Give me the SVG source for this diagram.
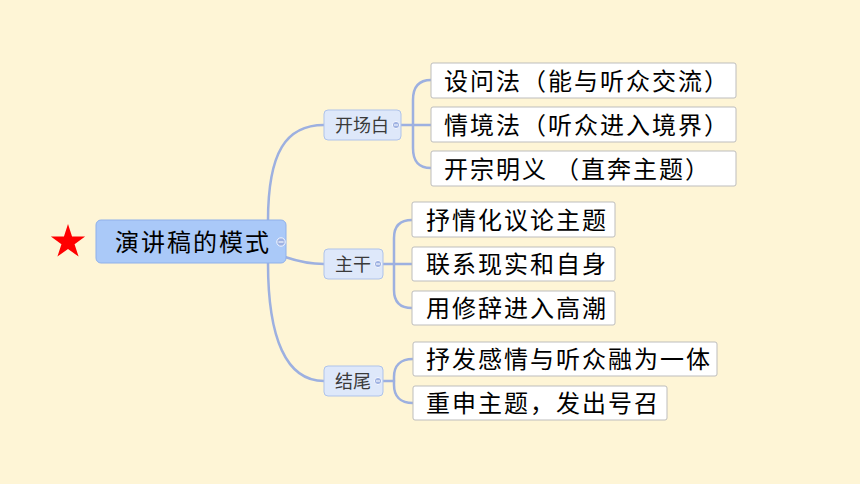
<svg xmlns="http://www.w3.org/2000/svg" width="860" height="484" viewBox="0 0 860 484">
<style>
.bg{fill:#FEF5D6}
.conn{fill:none;stroke:#9DB0E0;stroke-width:2.5;stroke-linecap:round}
.root{fill:#AAC9F8;stroke:#8FB0EA;stroke-width:1}
.sub{fill:#DEE8FA;stroke:#AFC3EA;stroke-width:1}
.leaf{fill:#FFFFFF;stroke:#BDBDBD;stroke-width:1}
.tl{font-family:"Noto Sans CJK SC","Noto Sans CJK JP",sans-serif;font-size:24px;letter-spacing:2px;fill:#000}
.ts{font-family:"Noto Sans CJK SC","Noto Sans CJK JP",sans-serif;font-size:18px;fill:#3A3A3A}
.knob{fill:#9FB2E2;stroke:#F4F7FF;stroke-width:1}
.knobline{stroke:#F4F7FF;stroke-width:1.2}
</style>
<rect class="bg" x="0" y="0" width="860" height="484"/>
<g id="connectors">
<path class="conn" d="M268,221 C268,152 286,125 324,125"/>
<path class="conn" d="M268,263 C268,338 286,381 324,381"/>
<path class="conn" d="M285,257 C300,262 310,264 324,264"/>
<path class="conn" d="M401,125 H431"/>
<path class="conn" d="M431,80 C418,80 413,88 413,100 V148 C413,161 418,168 431,168"/>
<path class="conn" d="M383,264 H412"/>
<path class="conn" d="M412,220 C400,220 394,226 394,238 V290 C394,302 400,308 412,308"/>
<path class="conn" d="M383,381 H394"/>
<path class="conn" d="M413,359 C400,359 394,366 394,377 V385 C394,396 400,403 413,403"/>
</g>
<g id="star">
<polygon fill="#FF0000" points="68,224 72.06,236.42 85.12,236.44 74.56,244.13 78.58,256.56 68,248.9 57.42,256.56 61.44,244.13 50.88,236.44 63.94,236.42"/>
</g>
<g id="root">
<rect class="root" x="96" y="220" width="190" height="43" rx="5"/>
<text class="tl" x="115" y="251">演讲稿的模式</text>
<circle class="knob" cx="281" cy="242" r="4.2"/>
<line class="knobline" x1="278.5" y1="242" x2="283.5" y2="242"/>
</g>
<g id="sub-kaichangbai">
<rect class="sub" x="324" y="110" width="77" height="30" rx="4"/>
<text class="ts" x="335" y="132">开场白</text>
<circle class="knob" cx="396" cy="125" r="3.6"/>
<line class="knobline" x1="394" y1="125" x2="398" y2="125"/>
</g>
<g id="sub-zhugan">
<rect class="sub" x="324" y="249" width="59" height="30" rx="4"/>
<text class="ts" x="335" y="271">主干</text>
<circle class="knob" cx="378" cy="264" r="3.6"/>
<line class="knobline" x1="376" y1="264" x2="380" y2="264"/>
</g>
<g id="sub-jiewei">
<rect class="sub" x="324" y="366" width="59" height="30" rx="4"/>
<text class="ts" x="335" y="388">结尾</text>
<circle class="knob" cx="378" cy="381" r="3.6"/>
<line class="knobline" x1="376" y1="381" x2="380" y2="381"/>
</g>
<g id="leaf-1">
<rect class="leaf" x="431" y="63" width="305" height="35" rx="2"/>
<text class="tl" x="444" y="90">设问法（能与听众交流）</text>
</g>
<g id="leaf-2">
<rect class="leaf" x="431" y="107" width="305" height="35" rx="2"/>
<text class="tl" x="444" y="134">情境法（听众进入境界）</text>
</g>
<g id="leaf-3">
<rect class="leaf" x="431" y="151" width="305" height="35" rx="2"/>
<text class="tl" x="444" y="178">开宗明义　<tspan dx="-7">（直奔主题）</tspan></text>
</g>
<g id="leaf-4">
<rect class="leaf" x="412" y="202" width="203" height="35" rx="2"/>
<text class="tl" x="426" y="229">抒情化议论主题</text>
</g>
<g id="leaf-5">
<rect class="leaf" x="412" y="247" width="203" height="34" rx="2"/>
<text class="tl" x="426" y="273">联系现实和自身</text>
</g>
<g id="leaf-6">
<rect class="leaf" x="412" y="291" width="203" height="34" rx="2"/>
<text class="tl" x="426" y="317">用修辞进入高潮</text>
</g>
<g id="leaf-7">
<rect class="leaf" x="413" y="342" width="304" height="34" rx="2"/>
<text class="tl" x="426" y="368">抒发感情与听众融为一体</text>
</g>
<g id="leaf-8">
<rect class="leaf" x="413" y="386" width="254" height="34" rx="2"/>
<text class="tl" x="426" y="412">重申主题，发出号召</text>
</g>
</svg>
